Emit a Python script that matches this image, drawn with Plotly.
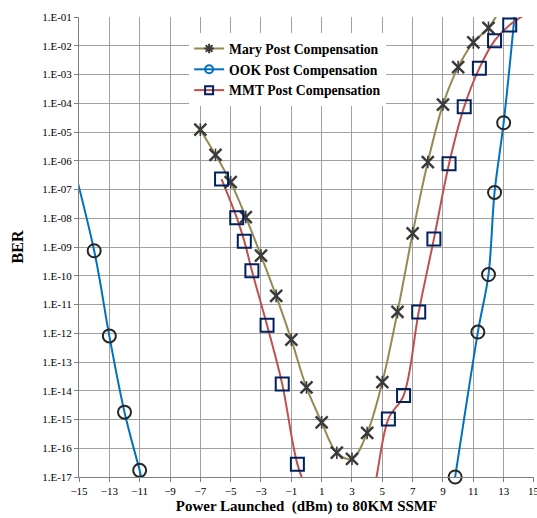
import plotly.graph_objects as go

# ---- data (BER vs launched power) ----
mary_x = [-7, -6, -5, -4, -3, -2, -1, 0, 1, 2, 3, 4, 5, 6, 7, 8, 9, 10, 11, 12, 13]
mary_ber = [1.2e-5, 1.6e-6, 1.8e-7, 1.1e-8, 5e-10, 2e-11, 6e-13, 1.3e-14, 8e-16, 7e-17,
            4.3e-17, 3.4e-16, 2e-14, 5.5e-12, 3e-9, 9e-7, 9e-5, 1.8e-3, 1.3e-2, 4.2e-2, 0.3]

ook_x = [-16, -14, -13, -12, -11, -10, 9.3, 9.8, 11.3, 12.0, 12.4, 13.0, 13.8]
ook_ber = [1.3e-5, 7.4e-10, 8.1e-13, 1.8e-15, 1.7e-17, 1.6e-19, 2e-19, 1e-17,
           1.1e-12, 1.1e-10, 7.9e-8, 2.1e-5, 0.3]

mmt_x = [-5.6, -4.6, -4.1, -3.6, -2.6, -1.6, -0.6, 0.4, 1.4, 2.4, 3.4, 4.4,
         5.4, 6.4, 7.4, 8.4, 9.4, 10.4, 11.4, 12.4, 13.4, 14.4]
mmt_ber = [2.3e-7, 1.05e-8, 1.6e-9, 1.5e-10, 1.9e-12, 1.7e-14, 2.8e-17, 1e-18, 1e-20,
           1e-20, 1e-19, 3e-18, 1.05e-15, 6.8e-15, 5.5e-12, 1.9e-9, 7.8e-7, 7.6e-5,
           1.66e-3, 1.5e-2, 5.3e-2, 0.12]

series_names = ["Mary Post Compensation", "OOK Post Compensation", "MMT Post Compensation"]
y_exponents = list(range(-17, 0))
y_ticktext = ["1.E-%02d" % (-e) for e in y_exponents]
x_ticks = list(range(-15, 16, 2))

# ---- styles ----
C_MARY, C_OOK, C_MMT = "#948A54", "#0070C0", "#C0504D"
C_XMK, C_CIR, C_SQ = "#3A3A3A", "#262626", "#002060"
SERIF = "Liberation Serif, Times New Roman, serif"


def visible(xs, ys):
    pts = [(a, b) for a, b in zip(xs, ys) if 0.99e-17 <= b <= 0.101]
    return [p[0] for p in pts], [p[1] for p in pts]


fig = go.Figure()

# lines (smoothed, clipped to the plot area)
for xs, ys, col in [(mary_x, mary_ber, C_MARY), (ook_x, ook_ber, C_OOK), (mmt_x, mmt_ber, C_MMT)]:
    fig.add_trace(go.Scatter(x=xs, y=ys, mode="lines", showlegend=False, hoverinfo="skip",
                             line=dict(color=col, width=2, shape="spline", smoothing=1.0)))

# markers
mx, my = visible(mary_x, mary_ber)
fig.add_trace(go.Scatter(x=mx, y=my, mode="markers", showlegend=False, cliponaxis=False,
                         marker=dict(symbol="x-thin-open", size=12, color=C_XMK, line=dict(color=C_XMK, width=2.4))))
fig.add_trace(go.Scatter(x=mx, y=my, mode="markers", showlegend=False, cliponaxis=False,
                         marker=dict(symbol="line-ns-open", size=9, color=C_XMK, line=dict(color=C_XMK, width=1.6))))
ox, oy = visible(ook_x, ook_ber)
fig.add_trace(go.Scatter(x=ox, y=oy, mode="markers", showlegend=False, cliponaxis=False,
                         marker=dict(symbol="circle-open", size=13, color=C_CIR, line=dict(color=C_CIR, width=2))))
sx, sy = visible(mmt_x, mmt_ber)
fig.add_trace(go.Scatter(x=sx, y=sy, mode="markers", showlegend=False, cliponaxis=False,
                         marker=dict(symbol="square-open", size=13, color=C_SQ, line=dict(color=C_SQ, width=2))))

# legend entries
for name, col, sym, mcol in [(series_names[0], C_MARY, "asterisk-open", C_XMK),
                             (series_names[1], C_OOK, "circle-open", C_OOK),
                             (series_names[2], C_MMT, "square-open", C_SQ)]:
    fig.add_trace(go.Scatter(x=[None], y=[None], mode="lines+markers", name=name,
                             line=dict(color=col, width=2),
                             marker=dict(symbol=sym, size=8, color=mcol, line=dict(color=mcol, width=2))))

fig.update_layout(
    width=537, height=518,
    margin=dict(l=79, r=3, t=17, b=41),
    paper_bgcolor="white", plot_bgcolor="white",
    font=dict(family=SERIF, color="black", size=11),
    showlegend=True,
    legend=dict(x=0.242, y=0.965, xanchor="left", yanchor="top", bgcolor="white",
                font=dict(family=SERIF, size=13.7, color="black", weight="bold"),
                borderwidth=0, tracegroupgap=0),
    xaxis=dict(range=[-15, 15.001], tickvals=x_ticks, showgrid=True, gridcolor="#A0A0A0", gridwidth=1,
               zeroline=False, showline=True, linecolor="#7F7F7F", linewidth=1,
               ticks="outside", ticklen=4, tickcolor="#7F7F7F",
               tickfont=dict(family=SERIF, size=11),
               title=dict(text="Power Launched  (dBm) to 80KM SSMF", standoff=4,
                          font=dict(family=SERIF, size=15, weight="bold"))),
    yaxis=dict(type="log", range=[-17, -1], tickvals=[10.0 ** e for e in y_exponents], ticktext=y_ticktext,
               showgrid=True, gridcolor="#A0A0A0", gridwidth=1, zeroline=False,
               showline=True, linecolor="#7F7F7F", linewidth=1,
               ticks="outside", ticklen=4, tickcolor="#7F7F7F",
               tickfont=dict(family=SERIF, size=11),
               title=dict(text="BER", standoff=14, font=dict(family=SERIF, size=16, weight="bold"))),
)

# last x tick label (sits on the right edge, cut by the page as in the reference)
fig.add_annotation(x=x_ticks[-1], xref="x", y=0, yref="paper", yanchor="top", yshift=-6,
                   text=str(x_ticks[-1]), showarrow=False, font=dict(family=SERIF, size=11, color="black"))

fig.write_html("out.html", config={"displayModeBar": False},
               post_script="document.body.style.margin='0';document.body.style.overflow='hidden';")
